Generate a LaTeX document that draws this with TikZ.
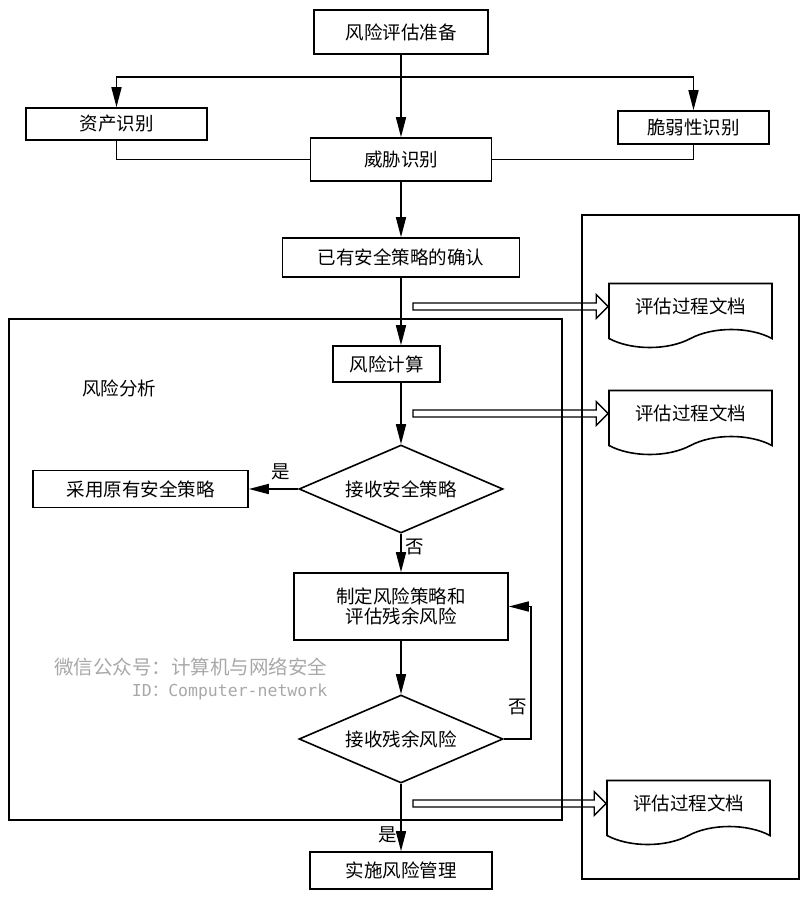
\documentclass[tikz,border=0pt]{standalone}
\usepackage{fontspec}
\newfontfamily\cjk{Noto Sans CJK SC}
\newfontfamily\wmmono{DejaVu Sans Mono}
\usetikzlibrary{arrows.meta,shapes.geometric,shapes.symbols,calc}
\definecolor{wmgray}{HTML}{A8A8A8}

\begin{document}
\begin{tikzpicture}[x=1pt,y=-1pt,line width=1.6pt,>={Triangle[length=20pt,width=10pt]},
  every node/.style={font=\cjk\fontsize{18.5}{20}\selectfont},
  box/.style={draw,rectangle,inner sep=0pt,align=center},
  decision/.style={draw,diamond,aspect=2.3,inner sep=0pt,minimum width=204pt,minimum height=88pt},
  doc/.style={draw,tape,tape bend top=none,tape bend height=18pt,inner sep=0pt,minimum width=163pt,minimum height=64pt},
  frame/.style={draw,line width=1.6pt},
  openarrow/.style={line width=1.4pt,to path={
    ($(\tikztostart)+(0,-3.5)$) -- ($(\tikztotarget)+(-12,-3.5)$) -- ($(\tikztotarget)+(-12,-12)$) -- (\tikztotarget)
    -- ($(\tikztotarget)+(-12,12)$) -- ($(\tikztotarget)+(-12,3.5)$) -- ($(\tikztostart)+(0,3.5)$) -- cycle}}]
\useasboundingbox (0,0) rectangle (807,897);

% frames
\draw[frame] (9,319) rectangle (562,820);
\draw[frame] (582,215) rectangle (799,879);

\node[box,minimum width=174pt,minimum height=44pt] (prep) at (401,32) {风险评估准备};
\node[box,minimum width=181pt,minimum height=32pt] (asset) at (116.5,124) {资产识别};
\node[box,minimum width=151pt,minimum height=33pt] (vuln) at (693.5,127.5) {脆弱性识别};
\node[box,minimum width=181pt,minimum height=43pt] (threat) at (401,159.5) {威胁识别};
\node[box,minimum width=237pt,minimum height=39pt] (confirm) at (401,257.5) {已有安全策略的确认};
\node[box,minimum width=107pt,minimum height=36pt] (calc) at (386.5,364) {风险计算};
\node[decision] (accept) at (401,489) {接收安全策略};
\node[box,minimum width=215pt,minimum height=37pt] (adopt) at (140.5,489) {采用原有安全策略};
\node[box,minimum width=214pt,minimum height=67pt] (plan) at (401,606.5) {制定风险策略和\\评估残余风险};
\node[decision] (residual) at (401,739) {接收残余风险};
\node[box,minimum width=182pt,minimum height=37pt] (impl) at (401,870.5) {实施风险管理};
\node (analysis) at (119,388) {风险分析};
\node[doc] (doc1) at (690.5,306.5) {评估过程文档};
\node[doc] (doc2) at (690.5,413.5) {评估过程文档};
\node[doc] (doc3) at (688.5,803.5) {评估过程文档};

% watermark
\node[anchor=east,text=wmgray,inner sep=0pt,font=\cjk\fontsize{19.5}{22}\selectfont] (wm1) at (328,667) {微信公众号：计算机与网络安全};
\node[anchor=east,text=wmgray,inner sep=0pt,font=\wmmono\fontsize{16.5}{20}\selectfont] (wm2) at (328,692) {ID{\cjk ：}Computer-network};

% flow
\coordinate (split) at (401,77);
\draw (prep) -- (split);
\draw[->] (split) -- (threat);
\draw[->] (split) -| (asset);
\draw[->] (split) -| (vuln);
\draw (asset) |- (threat);
\draw (vuln) |- (threat);
\draw[->] (threat) -- (confirm);
\draw[->] (confirm.south) -- (confirm.south |- calc.north);
\draw[->] (confirm.south |- calc.south) -- (accept);
\draw[->] (accept) -- node[above=5pt,pos=0.35] {是} (adopt);
\draw[->] (accept) -- node[right,pos=0.35] {否} (plan);
\draw[->] (plan) -- (residual);
\draw[->] (residual) -- node[left,pos=0.75] {是} (impl);
\draw[->] (residual.east) -- ++(27,0) |- node[left,pos=0.12] {否} (plan.east);

% documents
\coordinate (o1) at ($(doc1.west -| confirm.south)+(12,0)$);
\coordinate (o2) at ($(doc2.west -| confirm.south)+(12,0)$);
\coordinate (o3) at ($(doc3.west -| confirm.south)+(12,0)$);
\draw[openarrow] (o1) to (doc1.west);
\draw[openarrow] (o2) to (doc2.west);
\draw[openarrow] (o3) to (doc3.west);
\end{tikzpicture}
\end{document}
